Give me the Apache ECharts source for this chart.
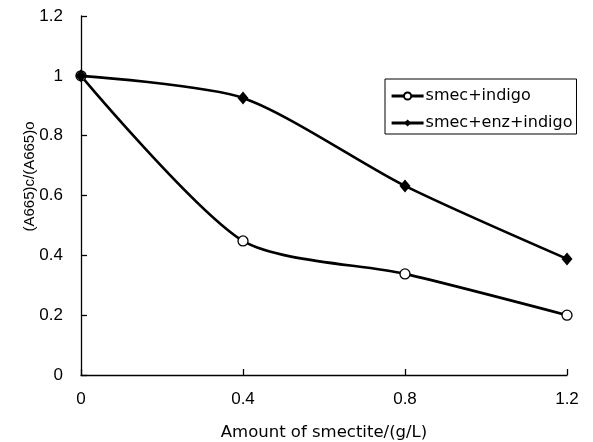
<!DOCTYPE html>
<html>
<head>
<meta charset="utf-8">
<script src="https://cdn.jsdelivr.net/npm/echarts@6/dist/echarts.min.js"></script>
<style>
  html, body { margin: 0; padding: 0; background: #fff; }
  #chart { width: 593px; height: 442px; }
</style>
</head>
<body>
<div id="chart"></div>
<script>
// 数据
var xValues = [0, 0.4, 0.8, 1.2];
var smecIndigo = [1, 0.448, 0.338, 0.2];
var smecEnzIndigo = [1, 0.926, 0.632, 0.388];
var xTicks = [0, 0.4, 0.8, 1.2];
var yTicks = [0, 0.2, 0.4, 0.6, 0.8, 1, 1.2];

function pairs(xs, ys) {
  return xs.map(function (x, i) { return [x, ys[i]]; });
}

var chart = echarts.init(document.getElementById('chart'));
var tickFont = '"Liberation Sans", Arial, sans-serif';
var wide = '"DejaVu Sans", sans-serif';

var option = {
  animation: false,
  backgroundColor: '#fff',
  grid: { left: 81, right: 26, top: 16, bottom: 67, outerBoundsMode: 'none' },
  legend: {
    orient: 'vertical',
    left: 385,
    top: 79,
    width: 190,
    padding: [8, 4, 2, 5],
    itemGap: 9,
    itemWidth: 32,
    itemHeight: 9,
    borderColor: '#000',
    borderWidth: 1,
    lineStyle: { width: 3.2 },
    textStyle: { fontFamily: wide, fontSize: 16, lineHeight: 18, color: '#000', padding: [0, 0, 0, -3] },
    data: ['smec+indigo', 'smec+enz+indigo']
  },
  xAxis: {
    type: 'value',
    min: 0,
    max: 1.2,
    interval: 0.4,
    name: 'Amount of smectite/(g/L)',
    nameLocation: 'middle',
    nameGap: 49,
    nameMoveOverlap: false,
    nameTextStyle: { fontFamily: wide, fontSize: 16.5, color: '#000' },
    axisLine: { lineStyle: { color: '#000', width: 1.3 } },
    axisTick: { inside: true, length: 6, lineStyle: { color: '#000', width: 1.3 } },
    axisLabel: {
      margin: 16, fontFamily: tickFont, fontSize: 17, color: '#000',
      formatter: function (v) {
        var t = xTicks.find(function (k) { return Math.abs(k - v) < 1e-6; });
        return t === undefined ? '' : String(t);
      }
    },
    splitLine: { show: false }
  },
  yAxis: {
    type: 'value',
    min: 0,
    max: 1.2,
    interval: 0.2,
    name: '(A665)c/(A665)o',
    nameLocation: 'middle',
    nameGap: 44,
    nameMoveOverlap: false,
    nameTextStyle: { fontFamily: tickFont, fontSize: 15, color: '#000', padding: [0, 0, 0, 38] },
    axisLine: { show: true, lineStyle: { color: '#000', width: 1.3 } },
    axisTick: { show: true, inside: true, length: 6, lineStyle: { color: '#000', width: 1.3 } },
    axisLabel: {
      margin: 18, fontFamily: tickFont, fontSize: 17, color: '#000',
      formatter: function (v) {
        var t = yTicks.find(function (k) { return Math.abs(k - v) < 1e-6; });
        return t === undefined ? '' : String(t);
      }
    },
    splitLine: { show: false }
  },
  series: [
    {
      name: 'smec+indigo',
      type: 'line',
      smooth: 0.25,
      data: pairs(xValues, smecIndigo),
      symbol: 'circle',
      symbolSize: 10,
      lineStyle: { color: '#000', width: 2.6 },
      itemStyle: { color: '#fff', borderColor: '#000', borderWidth: 1.3 },
      z: 3
    },
    {
      name: 'smec+enz+indigo',
      type: 'line',
      smooth: 0.25,
      data: pairs(xValues, smecEnzIndigo),
      symbol: 'diamond',
      symbolSize: [11, 13],
      lineStyle: { color: '#000', width: 2.6 },
      itemStyle: { color: '#000', borderColor: '#000', borderWidth: 0 },
      z: 4
    }
  ]
};

chart.setOption(option);
</script>
</body>
</html>
